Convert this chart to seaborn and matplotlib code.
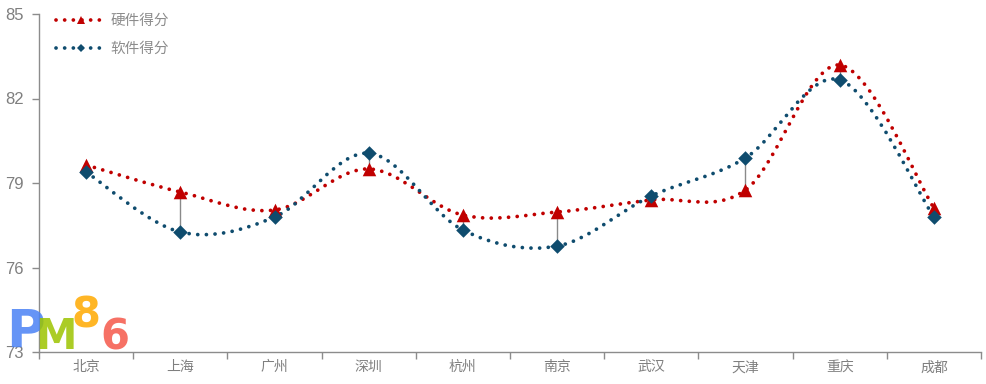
import numpy as np
import pandas as pd
import matplotlib
matplotlib.use("Agg")
import matplotlib.pyplot as plt
import seaborn as sns
from matplotlib.path import Path
from matplotlib.patches import PathPatch
from matplotlib.lines import Line2D

cities = ["北京", "上海", "广州", "深圳", "杭州", "南京", "武汉", "天津", "重庆", "成都"]
hardware = [79.64, 78.68, 78.04, 79.50, 77.86, 77.97, 78.40, 78.75, 83.19, 78.11]
software = [79.39, 77.26, 77.79, 80.06, 77.33, 76.76, 78.54, 79.89, 82.66, 77.79]
series_names = ["硬件得分", "软件得分"]
y_ticks = [73, 76, 79, 82, 85]

RED = "#C00000"
BLUE = "#0F4C6E"
GRAY = "#7F7F7F"
AXIS = "#8C8C8C"

sns.set_theme(style="white")
plt.rcParams["font.family"] = ["Noto Sans CJK SC", "DejaVu Sans"]

df = pd.DataFrame({"city": cities, "x": np.arange(len(cities)),
                   "硬件得分": hardware, "软件得分": software})


def smooth_path(xs, ys):
    # catmull-rom -> cubic bezier, like excel smoothed lines
    pts = np.column_stack([xs, ys]).astype(float)
    ext = np.vstack([pts[0], pts, pts[-1]])
    verts = [pts[0]]
    codes = [Path.MOVETO]
    for i in range(len(pts) - 1):
        p0, p1, p2, p3 = ext[i], ext[i + 1], ext[i + 2], ext[i + 3]
        c1 = p1 + (p2 - p0) / 6.0
        c2 = p2 - (p3 - p1) / 6.0
        verts += [c1, c2, p2]
        codes += [Path.CURVE4] * 3
    return Path(verts, codes)


fig = plt.figure(figsize=(9.87, 3.84), dpi=100)
ax = fig.add_axes([39 / 987, 1 - 352 / 384, (981 - 39) / 987, (352 - 14) / 384])

# high-low lines
ax.vlines(df["x"], df["硬件得分"], df["软件得分"], color="#8A8A8A", lw=1.0, zorder=2)

dots = (0, (0.01, 2.3))
for col, color in [("硬件得分", RED), ("软件得分", BLUE)]:
    patch = PathPatch(smooth_path(df["x"], df[col]), fill=False, edgecolor=color,
                      lw=2.7, linestyle=dots, capstyle="round", zorder=3)
    ax.add_patch(patch)

sns.scatterplot(data=df, x="x", y="硬件得分", marker="^", s=95, color=RED,
                edgecolor=RED, linewidth=0, ax=ax, zorder=4, legend=False)
sns.scatterplot(data=df, x="x", y="软件得分", marker="D", s=55, color=BLUE,
                edgecolor=BLUE, linewidth=0, ax=ax, zorder=5, legend=False)

ax.set_xlim(-0.5, len(cities) - 0.5)
ax.set_ylim(73, 85)
ax.set_yticks(y_ticks)
ax.set_xticks(df["x"])
ax.set_xticklabels(cities)
ax.set_xticks(np.arange(-0.5, len(cities), 1.0), minor=True)
ax.set_xlabel("")
ax.set_ylabel("")

for s in ["top", "right"]:
    ax.spines[s].set_visible(False)
for s in ["left", "bottom"]:
    ax.spines[s].set_color(AXIS)
    ax.spines[s].set_linewidth(1.0)

ax.tick_params(axis="y", which="major", direction="out", length=5, width=1,
               color=AXIS, labelcolor=GRAY, labelsize=12, pad=6, left=True)
ax.tick_params(axis="x", which="major", length=0, labelcolor=GRAY,
               labelsize=10, pad=6)
ax.tick_params(axis="x", which="minor", direction="out", length=5, width=1,
               color=AXIS, bottom=True)
for lbl in ax.get_yticklabels():
    lbl.set_fontfamily(["Liberation Sans", "DejaVu Sans"])

handles = [
    Line2D([0], [0], color=RED, lw=2.7, linestyle=dots, dash_capstyle="round",
           marker="^", markersize=6, markevery=[1], markerfacecolor=RED, markeredgewidth=0),
    Line2D([0], [0], color=BLUE, lw=2.7, linestyle=dots, dash_capstyle="round",
           marker="D", markersize=4.5, markevery=[1], markerfacecolor=BLUE, markeredgewidth=0),
]
for h in handles:
    h.set_xdata([0, 0.5, 1])
    h.set_ydata([0, 0, 0])
leg = ax.legend(handles, series_names, loc="upper left", bbox_to_anchor=(0.004, 1.039),
                frameon=False, fontsize=10.5, handlelength=3.4, handletextpad=0.35,
                labelspacing=0.95, labelcolor="#8C8C8C")

# PM86 watermark
logo = [("P", "#4A82F5", 25, 333, 38), ("M", "#9CC400", 56, 337, 30),
        ("8", "#FFAA00", 86, 315, 30), ("6", "#F5584A", 115, 337, 30)]
for ch, c, px, py, fs in logo:
    fig.text(px / 987, 1 - py / 384, ch, color=c, fontsize=fs, fontweight="heavy",
             family=["DejaVu Sans"], ha="center", va="center", alpha=0.85, zorder=10)

fig.savefig("out.png", dpi=100)
